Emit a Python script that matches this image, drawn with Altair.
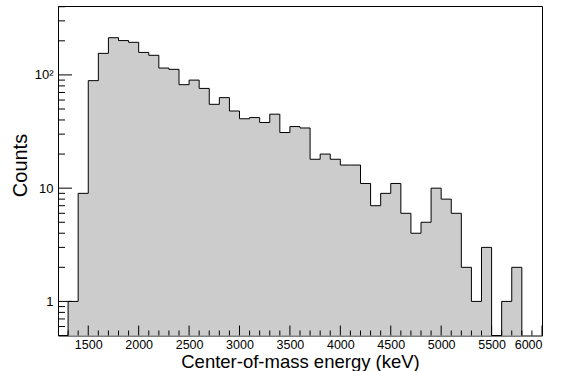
import altair as alt
import pandas as pd

# Histogram: 100 keV bins, left edges 1300 ... 5700
bin_left = list(range(1300, 5800, 100))
counts = [1, 9, 89, 155, 213, 201, 194, 158, 149, 115, 112, 82, 90, 76, 55, 63,
          48, 41, 42, 38, 45, 31, 35, 34, 18, 20, 18, 16, 16, 11, 7, 9, 11, 6,
          4, 5, 10, 8, 6, 2, 1, 3, 0, 1, 2]
bin_width = 100

x_domain = [1200, 6000]
y_domain = [0.5, 406]

x_major = [1500, 2000, 2500, 3000, 3500, 4000, 4500, 5000, 5500, 6000]
x_minor = [v for v in range(1300, 6000, 100) if v not in x_major]
y_major = [1, 10, 100]
y_major_labels = ["1", "10", "10²"]
y_minor = [0.6, 0.7, 0.8, 0.9, 2, 3, 4, 5, 6, 7, 8, 9,
           20, 30, 40, 50, 60, 70, 80, 90, 200, 300, 400]

W, H = 484, 329.5
FONT = "Liberation Sans"

outline = pd.DataFrame({
    "edge": [x_domain[0]] + bin_left + [bin_left[-1] + bin_width],
    "count": [0] + counts + [0],
})

xs = alt.Scale(domain=x_domain, nice=False, zero=False)
ys = alt.Scale(type="log", domain=y_domain, nice=False, clamp=True)

label_expr = " : ".join(
    [f"datum.value == {v} ? '{l}'" for v, l in zip(y_major, y_major_labels)]
) + " : ''"

x_axis = alt.Axis(
    title="Center-of-mass energy (keV)", values=x_major, format="d",
    domain=False, ticks=False, tickSize=0, grid=False,
    labelFont=FONT, labelFontSize=12.5, labelColor="black",
    labelBaseline="alphabetic", labelPadding=12.5,
    titleFont=FONT, titleFontSize=18.5, titleFontWeight="normal",
    titleColor="black", titleBaseline="alphabetic", titleY=32)
y_axis = alt.Axis(
    title="Counts", values=y_major, labelExpr=label_expr,
    domain=False, ticks=False, tickSize=0, grid=False,
    labelFont=FONT, labelFontSize=13, labelColor="black",
    labelBaseline="middle", labelPadding=5,
    titleFont=FONT, titleFontSize=20, titleFontWeight="normal",
    titleColor="black", titleBaseline="alphabetic",
    titleX=-32, titleY=159)

base = alt.Chart(outline).transform_calculate(
    yplot="datum.count > 0 ? datum.count : 0.1"
).encode(
    x=alt.X("edge:Q", scale=xs, axis=x_axis),
    y=alt.Y("yplot:Q", scale=ys, axis=y_axis),
)

fill = base.mark_area(interpolate="step-after", color="#cccccc").encode(
    y2=alt.value(H)
)
line = base.mark_line(interpolate="step-after", color="black", strokeWidth=1)


def xticks(vals, length):
    return alt.Chart(pd.DataFrame({"edge": vals})).mark_rule(
        color="black", strokeWidth=1
    ).encode(
        x=alt.X("edge:Q", scale=xs, axis=x_axis),
        y=alt.value(H), y2=alt.value(H - length),
    )


def yticks(vals, length):
    return alt.Chart(pd.DataFrame({"yplot": vals})).mark_rule(
        color="black", strokeWidth=1
    ).encode(
        y=alt.Y("yplot:Q", scale=ys, axis=y_axis),
        x=alt.value(0), x2=alt.value(length),
    )


chart = alt.layer(
    fill, line,
    xticks(x_major, 10), xticks(x_minor, 5),
    yticks(y_major, 14), yticks(y_minor, 7),
).properties(
    width=W, height=H,
    padding={"left": 58, "top": 6, "right": 19, "bottom": 35.5},
    autosize=alt.AutoSizeParams(type="none"),
    background="white",
).configure_view(stroke="black", strokeWidth=1, fill="white")

chart.save("out.html", embed_options={"renderer": "svg", "actions": False})
